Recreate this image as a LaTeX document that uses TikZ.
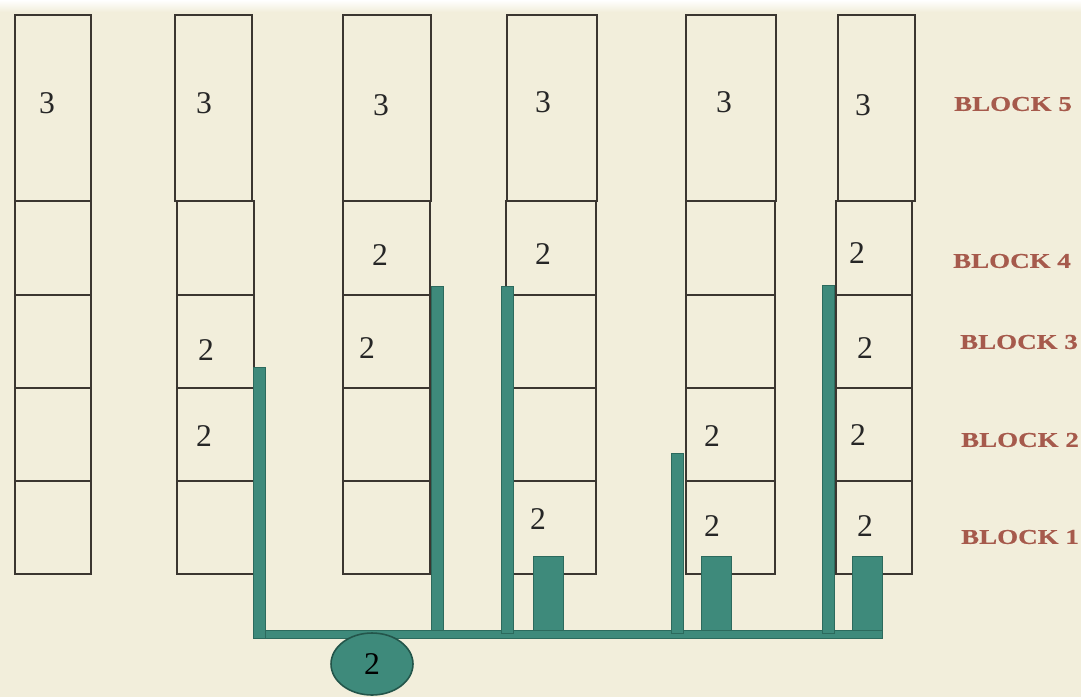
\documentclass[tikz,border=0pt]{standalone}
\usepackage{fontspec}
\setmainfont{Liberation Serif}
\newfontfamily\blockfont[FakeStretch=1.28, BoldFont={Liberation Serif Bold}, BoldFeatures={FakeBold=0.6}]{Liberation Serif}
\usetikzlibrary{shapes.geometric}
\definecolor{cpaper}{HTML}{F2EEDB}
\definecolor{cline}{HTML}{3B3630}
\definecolor{cteal}{HTML}{3E8A7B}
\definecolor{ctealdk}{HTML}{2C6A5D}
\definecolor{cbrick}{HTML}{A65A4C}
\tikzset{
  every picture/.style={x=0.02cm, y=-0.02cm},
  cell/.style={draw=cline, line width=1pt},
  num/.style={font=\fontsize{18}{20}\selectfont, text=black!85, inner sep=0pt},
  blk/.style={font=\blockfont\bfseries\fontsize{12}{14}\selectfont, text=cbrick, inner sep=0pt},
  pipe/.style={fill=cteal, draw=ctealdk, line width=0.4pt},
  pump/.style={pipe, inner sep=0pt, minimum width=0.6cm, minimum height=1.48cm},
  tank/.style={ellipse, fill=cteal, draw=ctealdk!80!black, line width=0.9pt, inner sep=0pt,
    minimum width=1.64cm, minimum height=1.24cm, font=\fontsize{18}{20}\selectfont},
}

\begin{document}
\begin{tikzpicture}
  \fill[cpaper] (0,0) rectangle (1081,697);
  \useasboundingbox (0,0) rectangle (1081,697);
  \fill[top color=white, bottom color=cpaper] (0,0) rectangle (1081,12);
  % columns of cells
  \draw[cell] (15,15) rectangle (91,201) (15,201) rectangle (91,574)
    (15,295) -- (91,295) (15,388) -- (91,388) (15,481) -- (91,481);
  \draw[cell] (175,15) rectangle (252,201) (177,201) rectangle (254,574)
    (177,295) -- (254,295) (177,388) -- (254,388) (177,481) -- (254,481);
  \draw[cell] (343,15) rectangle (431,201) (343,201) rectangle (430,574)
    (343,295) -- (430,295) (343,388) -- (430,388) (343,481) -- (430,481);
  \draw[cell] (507,15) rectangle (597,201) (506,201) rectangle (596,574)
    (506,295) -- (596,295) (506,388) -- (596,388) (506,481) -- (596,481);
  \draw[cell] (686,15) rectangle (776,201) (686,201) rectangle (775,574)
    (686,295) -- (775,295) (686,388) -- (775,388) (686,481) -- (775,481);
  \draw[cell] (838,15) rectangle (915,201) (836,201) rectangle (912,574)
    (836,295) -- (912,295) (836,388) -- (912,388) (836,481) -- (912,481);
  % top row
  \node[num] (c1t) at (47,103) {3};
  \node[num] (c2t) at (204,103) {3};
  \node[num] (c3t) at (381,105) {3};
  \node[num] (c4t) at (543,102) {3};
  \node[num] (c5t) at (724,102) {3};
  \node[num] (c6t) at (863,105) {3};
  % lower cells
  \node[num] (c2b3) at (206,350) {2};
  \node[num] (c2b2) at (204,436) {2};
  \node[num] (c3b4) at (380,255) {2};
  \node[num] (c3b3) at (367,348) {2};
  \node[num] (c4b4) at (543,254) {2};
  \node[num] (c4b1) at (538,519) {2};
  \node[num] (c5b2) at (712,436) {2};
  \node[num] (c5b1) at (712,526) {2};
  \node[num] (c6b4) at (857,253) {2};
  \node[num] (c6b3) at (865,348) {2};
  \node[num] (c6b2) at (858,435) {2};
  \node[num] (c6b1) at (865,526) {2};
  % block names
  \node[blk] (blk5) at (1013,104) {BLOCK 5};
  \node[blk] (blk4) at (1012,261) {BLOCK 4};
  \node[blk] (blk3) at (1019,342) {BLOCK 3};
  \node[blk] (blk2) at (1020,440) {BLOCK 2};
  \node[blk] (blk1) at (1020,537) {BLOCK 1};
  % pipes
  \filldraw[pipe] (253,630) rectangle (882,638);
  \filldraw[pipe] (253,367) rectangle (265,638);
  \filldraw[pipe] (431,286) rectangle (443,630);
  \filldraw[pipe] (501,286) rectangle (513,633);
  \filldraw[pipe] (671,453) rectangle (683,633);
  \filldraw[pipe] (822,285) rectangle (834,633);
  \node[pump] (p4) at (548,593) {};
  \node[pump] (p5) at (716,593) {};
  \node[pump] (p6) at (867,593) {};
  \node[tank] (tank) at (372,664) {2};
\end{tikzpicture}
\end{document}
